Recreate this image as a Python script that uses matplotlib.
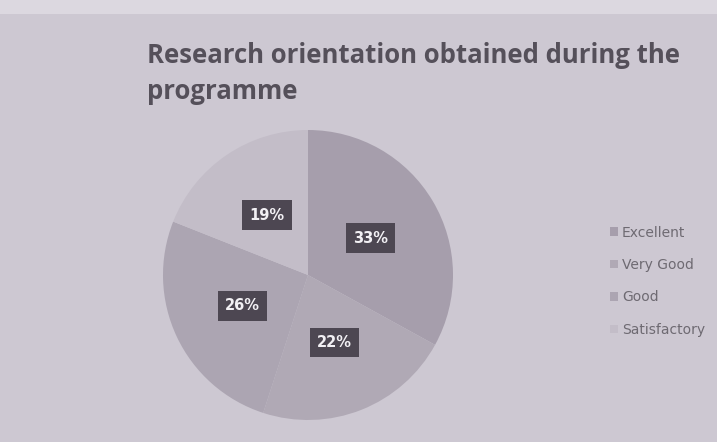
import matplotlib.pyplot as plt
from matplotlib.patches import Rectangle

# data
labels = ['Excellent', 'Very Good', 'Good', 'Satisfactory']
shares = [33, 22, 26, 19]
colors = ['#a69eac', '#b0a9b5', '#aca5b2', '#c3bdc8']

fig = plt.figure(figsize=(7.17, 4.42), dpi=100)
fig.patch.set_facecolor('#cdc8d2')

# lighter strip along the top edge of the photographed slide
fig.patches.append(Rectangle((0, 1 - 14 / 442), 1, 14 / 442, transform=fig.transFigure,
                             facecolor='#dcd8e0', edgecolor='none', zorder=0))

fig.text(147 / 717, 1 - 42 / 442, 'Research orientation obtained during the\nprogramme',
         ha='left', va='top', fontsize=18.5, fontweight='bold', color='#55505a',
         family='Open Sans', linespacing=1.45)

ax = fig.add_axes([163 / 717, 22 / 442, 290 / 717, 290 / 442])
wedges, texts, autotexts = ax.pie(shares, colors=colors, startangle=90, counterclock=False,
                                  autopct='%1.0f%%', pctdistance=0.5,
                                  wedgeprops=dict(linewidth=0))
for t in autotexts:
    t.set_color('#f2f0f4')
    t.set_fontweight('bold')
    t.set_fontsize(10.5)
    t.set_bbox(dict(boxstyle='square,pad=0.5', facecolor='#4d4752', edgecolor='none'))
ax.set_xlim(-1, 1)
ax.set_ylim(-1, 1)

leg = fig.legend(wedges, labels, loc='upper left', bbox_to_anchor=(597 / 717, 1 - 213 / 442),
                 frameon=False, fontsize=10, handlelength=0.6, handleheight=0.6,
                 handletextpad=0.3, labelspacing=1.33, labelcolor='#6e6a72')
for h in leg.legend_handles:
    h.set_edgecolor('none')

fig.savefig('out.png', dpi=100, facecolor=fig.get_facecolor())
